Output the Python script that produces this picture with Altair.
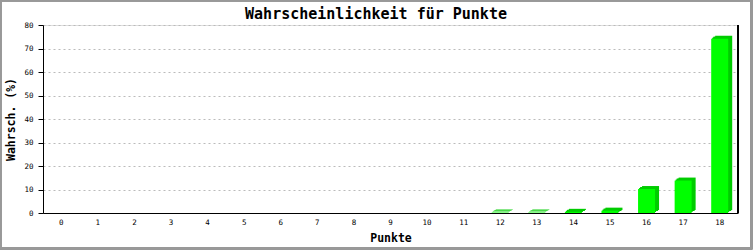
import altair as alt
import pandas as pd

# Probability (%) of reaching each point total
punkte = list(range(19))
wahrsch = [0, 0, 0, 0, 0, 0, 0, 0, 0, 0, 0, 0, 0.2, 0.2, 0.5, 1.0, 10.2, 13.8, 74.1]

df = pd.DataFrame({"Punkte": punkte, "Wahrsch": wahrsch})

W, H = 695, 188
FONT = "DejaVu Sans Mono"
FRONT = "#00ff00"
SIDE = "#00cc00"

x_enc = alt.X(
    "Punkte:O",
    scale=alt.Scale(paddingInner=0, paddingOuter=0),
    axis=alt.Axis(
        title="Punkte", labelAngle=0, ticks=False, grid=False,
        domainColor="#000", domainWidth=1,
        labelFont=FONT, labelFontSize=7.5, labelColor="#000", labelPadding=5,
        titleFont=FONT, titleFontSize=11.5, titleFontWeight="bold", titleColor="#000",
        titleX=W / 2, titleY=25, titleBaseline="middle",
    ),
)
y_enc = alt.Y(
    "Wahrsch:Q",
    scale=alt.Scale(domain=[0, 80], nice=False),
    axis=alt.Axis(
        title="Wahrsch. (%)", values=list(range(0, 81, 10)),
        tickSize=5, tickColor="#000", domainColor="#000", domainWidth=1,
        grid=True, gridColor="#bbbbbb", gridDash=[2, 3],
        labelFont=FONT, labelFontSize=7.5, labelColor="#000", labelPadding=5,
        titleFont=FONT, titleFontSize=11.5, titleFontWeight="bold", titleColor="#000",
        titleX=-32, titleY=H / 2, titleAngle=-90, titleBaseline="middle", titleAlign="center",
    ),
)

# pseudo-3D bars: the darker depth is built by stacking shifted copies behind the front face
depth_steps = [(4, -3), (3, -2), (2, -2), (1, -1)]
depth_layers = [
    alt.Chart(df).mark_bar(size=17, color=SIDE, xOffset=dx, yOffset=dy).encode(x=x_enc, y=y_enc)
    for dx, dy in depth_steps
]
front = alt.Chart(df).mark_bar(size=17, color=FRONT).encode(x=x_enc, y=y_enc)

right_line = alt.Chart(df).mark_rule(color="#000", strokeWidth=1).encode(
    x=alt.value(W), y=alt.value(0), y2=alt.value(H)
)
frame = alt.Chart(df).mark_rect(
    fill=None, stroke="#999999", strokeWidth=1.5, clip=False
).encode(
    x=alt.value(-43 + 0.75), x2=alt.value(W + 15 - 1.5),
    y=alt.value(-25 + 0.75), y2=alt.value(H + 37 - 1.5),
)

chart = alt.layer(*depth_layers, front, right_line, frame).properties(
    width=W, height=H,
    title=alt.TitleParams(
        "Wahrscheinlichkeit für Punkte", font=FONT, fontSize=15, fontWeight="bold",
        color="#000", anchor="middle", dx=-14.5, baseline="alphabetic", offset=0, dy=34,
    ),
    padding={"left": 43, "top": 25, "right": 15, "bottom": 37},
    autosize=alt.AutoSizeParams(type="none"),
).configure_view(stroke=None).configure(background="white")

chart.save("out.html", embed_options={"renderer": "svg", "actions": False})
